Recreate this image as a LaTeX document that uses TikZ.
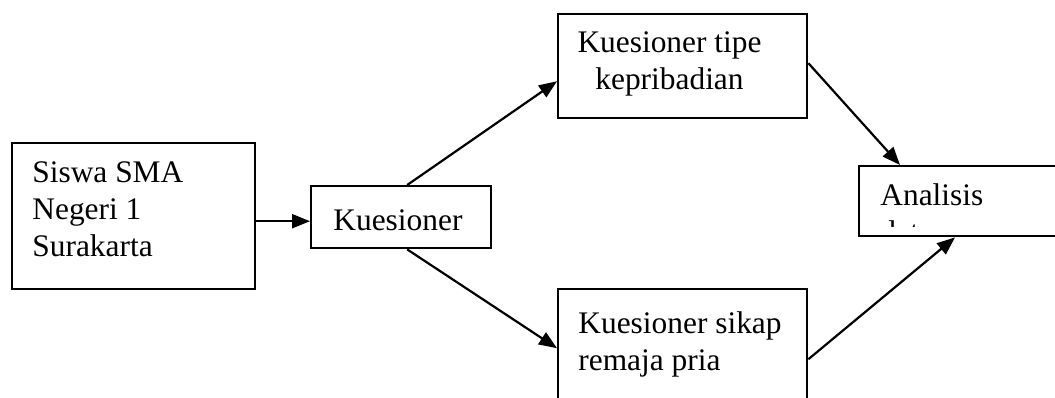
\documentclass[tikz,border=0pt]{standalone}
\usepackage{fontspec}
\setmainfont{Liberation Serif}
\usetikzlibrary{arrows.meta}
\begin{document}
\begin{tikzpicture}
[x = 0.5pt, y = -0.5pt,
 box/.style = {draw = black, line width = 1.2pt, inner sep = 0pt, anchor = north west},
 txt/.style = {inner sep = 0pt, font = \fontsize{15.7}{18.5}\selectfont},
 link/.style = {draw = black, line width = 1.1pt, -{Triangle[length = 9pt, width = 7pt]}}
 ]
\useasboundingbox (0,0) rectangle (1055,397);
\clip (0,0) rectangle (1055,397);
\node [box, minimum width = 121.5pt, minimum height = 73pt] (siswa) at (11,142) {};
\node [box, minimum width = 90pt, minimum height = 31pt] (kues) at (310,185) {};
\node [box, minimum width = 124.5pt, minimum height = 52pt] (tipe) at (557,13) {};
\node [box, minimum width = 124.5pt, minimum height = 70pt] (sikap) at (557,288) {};
\node [box, minimum width = 110pt, minimum height = 35pt] (analisis) at (858,165) {};
\node [txt, anchor = north west, align = left] (siswatxt) at (32,161.5) {Siswa SMA\\Negeri 1\\Surakarta};
\node [txt, anchor = base west] (kuestxt) at (333,230) {Kuesioner};
\node [txt, anchor = north, align = center] (tipetxt) at (669.5,31.5) {Kuesioner tipe\\kepribadian};
\node [txt, anchor = north west, align = left] (sikaptxt) at (578,311.5) {Kuesioner sikap\\remaja pria};
\begin{scope}
\clip (analisis.north west) rectangle (1055,226);
\node [txt, anchor = north west, align = left] (analisistxt) at (880,183.5) {Analisis\\data};
\end{scope}
\draw [link] ([yshift = -2.5pt]siswa.east) -- ([yshift = -2pt]kues.west);
\draw [link] ([xshift = 3pt]kues.north) -- ([yshift = -7.5pt]tipe.west);
\draw [link] ([xshift = 3pt]kues.south) -- ([yshift = 5.5pt]sikap.west);
\draw [link] ([yshift = 1.5pt]tipe.east) -- ([xshift = 21pt]analisis.north west);
\draw [link] (sikap.east) -- ([xshift = 48.5pt]analisis.south west);
\end{tikzpicture}
\end{document}
